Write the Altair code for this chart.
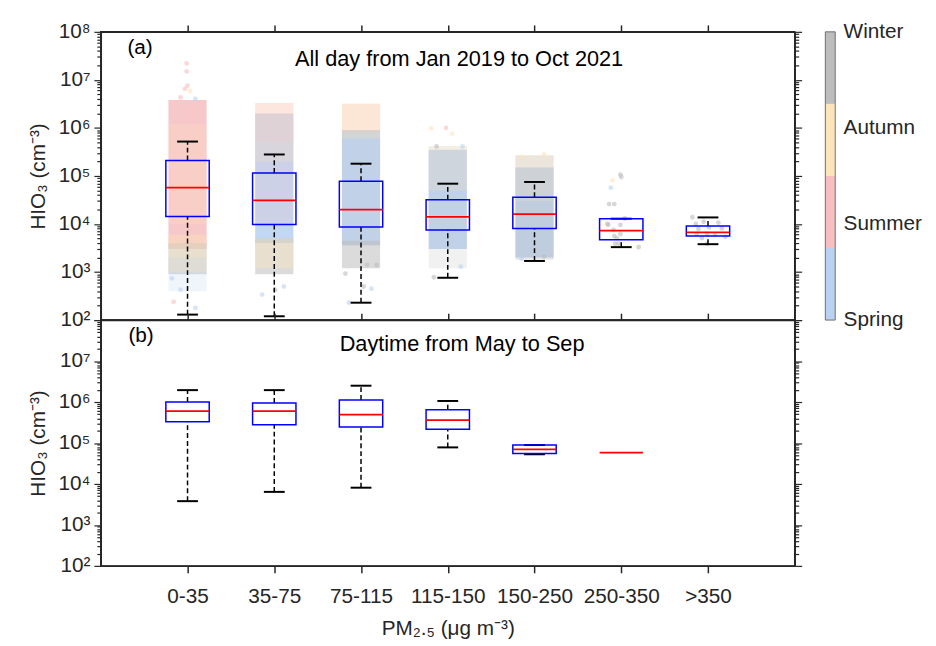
import altair as alt
import pandas as pd

# ---------------- data ----------------
categories = ["0-35", "35-75", "75-115", "115-150", "150-250", "250-350", ">350"]
seasons = ["Spring", "Summer", "Autumn", "Winter"]
season_colors = ["#bad2f1", "#f6c0c1", "#fde5b9", "#bdbdbd"]

# panel (a): all day, box statistics (cm^-3)
a_lower = [1.3e2, 1.2e2, 2.3e2, 7.6e2, 1.7e3, 3.3e3, 3.8e3]
a_q1 = [1.44e4, 9.8e3, 8.7e3, 7.5e3, 8.1e3, 4.7e3, 5.6e3]
a_median = [5.7e4, 3.1e4, 2.0e4, 1.4e4, 1.6e4, 7.3e3, 6.7e3]
a_q3 = [2.1e5, 1.15e5, 7.8e4, 3.2e4, 3.6e4, 1.29e4, 9.1e3]
a_upper = [5.2e5, 2.8e5, 1.8e5, 6.9e4, 7.5e4, 1.29e4, 1.37e4]

# panel (b): daytime May-Sep, box statistics (None = not drawn)
b_lower = [3.8e3, 6.4e3, 8.1e3, 7.8e4, 5.3e4, None, None]
b_q1 = [3.3e5, 2.8e5, 2.45e5, 2.15e5, 5.5e4, None, None]
b_median = [6.0e5, 6.0e5, 4.9e5, 3.6e5, 7.0e4, 5.8e4, None]
b_q3 = [1.0e6, 9.5e5, 1.12e6, 6.5e5, 8.9e4, None, None]
b_upper = [1.95e6, 1.95e6, 2.5e6, 1.06e6, 8.9e4, None, None]

# panel (a): dense scatter clouds, as season bands (category, season, low, high, density)
cloud_cat = ["0-35", "0-35", "0-35", "0-35", "0-35",
             "35-75", "35-75", "35-75", "35-75", "35-75", "35-75",
             "75-115", "75-115", "75-115", "75-115", "75-115",
             "115-150", "115-150", "115-150",
             "150-250", "150-250", "150-250"]
cloud_season = ["Summer", "Autumn", "Winter", "Autumn", "Spring",
                "Spring", "Summer", "Summer", "Autumn", "Winter", "Autumn",
                "Spring", "Summer", "Autumn", "Winter", "Winter",
                "Spring", "Winter", "Autumn",
                "Spring", "Winter", "Autumn"]
cloud_low = [3.0e3, 1.0e4, 9.0e2, 1.0e3, 4.0e2,
             4.0e3, 1.0e4, 5.0e5, 2.0e5, 9.0e2, 1.2e3,
             3.6e3, 8.0e5, 6.0e5, 3.6e3, 1.2e3,
             3.0e3, 1.2e3, 5.0e4,
             2.0e3, 1.8e3, 3.0e4]
cloud_high = [3.8e6, 1.2e6, 4.0e3, 6.0e3, 2.0e3,
              2.0e6, 5.0e5, 3.3e6, 3.3e6, 5.0e3, 5.0e3,
              9.0e5, 3.2e6, 3.2e6, 9.0e5, 4.5e3,
              3.5e5, 4.2e5, 4.2e5,
              1.5e5, 2.7e5, 2.7e5]
cloud_density = ["dense", "sparse", "medium", "light", "sparse",
                 "dense", "sparse", "light", "sparse", "medium", "light",
                 "dense", "light", "light", "sparse", "medium",
                 "dense", "sparse", "sparse",
                 "dense", "light", "sparse"]
density_levels = ["sparse", "light", "medium", "dense"]

# panel (a): individually visible points (category, season, jitter offset, value)
pt_cat = ["0-35"] * 11 + ["35-75"] * 3 + ["75-115"] * 6 + ["115-150"] * 7 + ["150-250"] * 4 \
    + ["250-350"] * 17 + [">350"] * 13
pt_season = ["Summer", "Summer", "Summer", "Summer", "Autumn", "Summer", "Spring",
             "Spring", "Spring", "Summer", "Spring",
             "Spring", "Spring", "Winter",
             "Spring", "Spring", "Winter", "Winter", "Winter", "Winter",
             "Autumn", "Summer", "Autumn", "Winter", "Spring", "Winter", "Spring",
             "Autumn", "Autumn", "Spring", "Winter",
             "Winter", "Winter", "Autumn", "Spring", "Winter", "Winter", "Winter", "Winter",
             "Winter", "Winter", "Winter", "Winter", "Winter", "Winter", "Winter", "Winter", "Winter",
             "Winter", "Winter", "Winter", "Winter", "Winter", "Winter", "Winter", "Winter",
             "Winter", "Winter", "Winter", "Winter", "Winter"]
pt_offset = [-0.01, -0.01, 0.0, -0.03, 0.03, -0.08, 0.09,
             -0.18, -0.08, -0.16, 0.09,
             -0.14, 0.11, 0.01,
             -0.14, 0.12, 0.03, -0.18, 0.07, 0.18,
             -0.19, -0.02, 0.05, -0.13, 0.17, -0.16, 0.15,
             -0.15, 0.11, -0.15, 0.11,
             -0.01, 0.0, -0.10, -0.12, -0.14, -0.08, 0.04, -0.16, -0.15,
             -0.01, -0.09, -0.01, -0.08, -0.05, -0.07, -0.03, 0.20,
             -0.18, -0.14, -0.05, 0.12, -0.11, 0.01, 0.16, -0.13, -0.01, 0.08, -0.07, 0.20, -0.01]
pt_value = [2.2e7, 1.5e7, 7.6e6, 6.5e6, 5.9e6, 4.3e6, 4.0e6,
            7.4e2, 4.3e2, 2.4e2, 1.8e2,
            3.4e2, 5.0e2, 4.3e2,
            2.3e2, 4.5e2, 5.0e2, 9.3e2, 1.4e3, 1.4e3,
            9.8e5, 1.0e6, 7.6e5, 4.1e5, 4.1e5, 7.8e2, 1.3e3,
            2.5e5, 2.8e5, 1.9e3, 2.1e3,
            1.07e5, 9.5e4, 8.1e4, 5.7e4, 2.6e4, 2.6e4, 1.3e4, 1.0e4, 9.7e3,
            9.6e3, 7.5e3, 6.2e3, 5.6e3, 5.1e3, 3.9e3, 3.9e3, 3.3e3,
            1.38e4, 1.0e4, 1.12e4, 1.07e4, 7.9e3, 8.5e3, 8.1e3, 6.2e3, 6.2e3, 5.9e3, 5.1e3, 5.4e3, 3.9e3]

panel_titles = ["All day from Jan 2019 to Oct 2021", "Daytime from May to Sep"]
panel_tags = ["(a)", "(b)"]
y_title = "HIO₃ (cm⁻³)"
x_title = "PM₂.₅ (μg m⁻³)"

# ---------------- styling ----------------
FONT = "Liberation Sans"
INK = "#262626"
FS = 21
HW_BOX, HW_CAP, HW_CLOUD = 0.25, 0.12, 0.22
W, HA, HB = 703, 292, 249
CLOUD_OPACITY = [0.22, 0.38, 0.55, 0.88]   # by density level

pos = {c: i + 1 for i, c in enumerate(categories)}
xscale = alt.Scale(domain=[0, len(categories) + 1], nice=False, zero=False)
yscale = alt.Scale(type="log", domain=[1e2, 1e8], nice=False)
cbscale = alt.Scale(domain=[1, len(seasons)], nice=False, zero=False)

major_vals = [10.0 ** k for k in range(2, 9)]
minor_vals = [m * 10.0 ** k for k in range(2, 8) for m in range(2, 10)]
tick_vals = sorted(major_vals + minor_vals)

SUP = "['⁰','¹','²','³','⁴','⁵','⁶','⁷','⁸','⁹']"
EXP = "round(log(datum.value)/LN10)"
IS_MAJOR = f"abs(log(datum.value)/LN10 - {EXP}) < 0.001"
CAT_EXPR = "[" + ",".join("'" + c + "'" for c in categories) + "][round(datum.value) - 1]"
SEASON_EXPR = "[" + ",".join("'" + s + "'" for s in seasons) + "][round(datum.value) - 1]"


def y_axis(orient, labels, label_max=2e8):
    kw = dict(orient=orient, values=tick_vals, labels=labels, grid=False,
              tickSize={"condition": {"test": IS_MAJOR, "value": 7}, "value": 4},
              tickWidth=1.2, tickColor=INK, domainColor=INK, domainWidth=1.5,
              labelOverlap=False, labelFlush=False)
    if labels:
        kw.update(labelExpr=f"({IS_MAJOR}) && datum.value < {label_max} ? '10' + {SUP}[{EXP}] : ''",
                  labelFontSize=FS, labelColor=INK, labelFont=FONT, labelPadding=4,
                  title=y_title, titleFontSize=FS, titleFont=FONT, titleColor=INK,
                  titleFontWeight="normal", titlePadding=10)
    else:
        kw.update(title=None)
    return alt.Axis(**kw)


def x_axis(orient, labels):
    kw = dict(orient=orient, values=list(range(1, len(categories) + 1)), labels=labels,
              grid=False, tickSize=7, tickWidth=1.5, tickColor=INK, domainColor=INK,
              domainWidth=1.5, labelFlush=False, labelOverlap=False)
    if labels:
        kw.update(labelExpr=CAT_EXPR, labelFontSize=FS, labelColor=INK, labelFont=FONT,
                  labelPadding=13, title=x_title, titleFontSize=FS, titleFont=FONT,
                  titleColor=INK, titleFontWeight="normal", titlePadding=12)
    else:
        kw.update(title=None)
    return alt.Axis(**kw)


def stats_frames(lower, q1, med, q3, upper):
    box, whisk, caps, meds = [], [], [], []
    for i, c in enumerate(categories):
        p = pos[c]
        if med[i] is not None:
            meds.append({"p": p, "v": med[i]})
        if q1[i] is not None:
            box.append({"p": p, "lo": q1[i], "hi": q3[i]})
            if upper[i] > q3[i]:
                whisk.append({"p": p, "a": q3[i], "b": upper[i]})
            if lower[i] < q1[i]:
                whisk.append({"p": p, "a": lower[i], "b": q1[i]})
            caps.append({"p": p, "v": upper[i]})
            caps.append({"p": p, "v": lower[i]})
    return pd.DataFrame(box), pd.DataFrame(whisk), pd.DataFrame(caps), pd.DataFrame(meds)


def box_layers(frames, axes):
    box_df, whisk_df, caps_df, med_df = frames
    whisk = alt.Chart(whisk_df).mark_rule(color="black", strokeWidth=1.5, strokeDash=[5, 3]).encode(
        x=alt.X("p:Q", scale=xscale, axis=axes.get("whisk_x")),
        y=alt.Y("a:Q", scale=yscale, axis=axes.get("whisk_y")),
        y2="b:Q")
    caps = alt.Chart(caps_df).transform_calculate(
        l=f"datum.p - {HW_CAP}", r=f"datum.p + {HW_CAP}").mark_rule(
        color="black", strokeWidth=2).encode(
        x=alt.X("l:Q", scale=xscale, axis=None), x2="r:Q",
        y=alt.Y("v:Q", scale=yscale, axis=None))
    box = alt.Chart(box_df).transform_calculate(
        l=f"datum.p - {HW_BOX}", r=f"datum.p + {HW_BOX}").mark_rect(
        fillOpacity=0, stroke="#0000ff", strokeWidth=1.5).encode(
        x=alt.X("l:Q", scale=xscale, axis=axes.get("box_x")), x2="r:Q",
        y=alt.Y("lo:Q", scale=yscale, axis=axes.get("box_y")), y2="hi:Q")
    med = alt.Chart(med_df).transform_calculate(
        l=f"datum.p - {HW_BOX}", r=f"datum.p + {HW_BOX}").mark_rule(
        color="#ff0000", strokeWidth=1.8).encode(
        x=alt.X("l:Q", scale=xscale, axis=None), x2="r:Q",
        y=alt.Y("v:Q", scale=yscale, axis=None))
    return [whisk, caps, box, med]


def annotations(idx, title_xy, tag_xy):
    t = alt.Chart(pd.DataFrame({"t": [panel_titles[idx]]})).mark_text(
        font=FONT, fontSize=22, color="black", align="center", baseline="alphabetic").encode(
        text="t:N", x=alt.value(title_xy[0]), y=alt.value(title_xy[1]))
    g = alt.Chart(pd.DataFrame({"t": [panel_tags[idx]]})).mark_text(
        font=FONT, fontSize=FS, color="black", align="left", baseline="alphabetic").encode(
        text="t:N", x=alt.value(tag_xy[0]), y=alt.value(tag_xy[1]))
    return [t, g]


# ---------------- panel (a) ----------------
cloud_df = pd.DataFrame({"cat": cloud_cat, "season": cloud_season, "lo": cloud_low,
                         "hi": cloud_high, "density": cloud_density})
cloud_df["p"] = cloud_df["cat"].map(pos)
cloud_df["dlevel"] = cloud_df["density"].map({d: i for i, d in enumerate(density_levels)})
pts_df = pd.DataFrame({"cat": pt_cat, "season": pt_season, "off": pt_offset, "v": pt_value})
pts_df["p"] = pts_df["cat"].map(pos)

season_scale = alt.Scale(domain=seasons, range=season_colors)
opacity_expr = "[" + ",".join(str(o) for o in CLOUD_OPACITY) + "][datum.dlevel]"

clouds = alt.Chart(cloud_df).transform_calculate(
    l=f"datum.p - {HW_CLOUD}", r=f"datum.p + {HW_CLOUD}", op=opacity_expr).mark_rect().encode(
    x=alt.X("l:Q", scale=xscale, axis=x_axis("top", False)), x2="r:Q",
    y=alt.Y("lo:Q", scale=yscale, axis=y_axis("left", True)), y2="hi:Q",
    color=alt.Color("season:N", scale=season_scale, legend=None),
    opacity=alt.Opacity("op:Q", scale=None, legend=None))

points = alt.Chart(pts_df).transform_calculate(xp="datum.p + datum.off").mark_circle(
    size=24, opacity=0.6).encode(
    x=alt.X("xp:Q", scale=xscale, axis=None),
    y=alt.Y("v:Q", scale=yscale, axis=y_axis("right", False)),
    color=alt.Color("season:N", scale=season_scale, legend=None))

# colour bar (season key) drawn at the right of panel (a)
CB_X0, CB_X1 = W + 31, W + 41
cb_df = pd.DataFrame({"season": seasons,
                      "lo": [1 + 0.75 * i for i in range(len(seasons))],
                      "hi": [1 + 0.75 * (i + 1) for i in range(len(seasons))]})
cb_rects = alt.Chart(cb_df).mark_rect().encode(
    x=alt.value(CB_X0), x2=alt.value(CB_X1),
    y=alt.Y("lo:Q", scale=cbscale,
            axis=alt.Axis(orient="right", offset=CB_X1 - W, values=list(range(1, len(seasons) + 1)),
                          labelExpr=SEASON_EXPR, ticks=False, domain=False, grid=False,
                          labelFontSize=FS, labelFont=FONT, labelColor=INK, labelPadding=8,
                          labelFlush=False, labelOverlap=False, title=None)),
    y2="hi:Q",
    color=alt.Color("season:N", scale=season_scale, legend=None))
cb_frame = alt.Chart(pd.DataFrame({"lo": [1], "hi": [len(seasons)]})).mark_rect(
    fillOpacity=0, stroke="#6e6e6e", strokeWidth=1).encode(
    x=alt.value(CB_X0), x2=alt.value(CB_X1),
    y=alt.Y("lo:Q", scale=cbscale, axis=None), y2="hi:Q")

frames_a = stats_frames(a_lower, a_q1, a_median, a_q3, a_upper)
panel_a = alt.layer(
    clouds, points, *box_layers(frames_a, {}), *annotations(0, (363, 35), (27, 22)),
    cb_rects, cb_frame
).resolve_scale(y="independent").resolve_axis(x="independent", y="independent").properties(
    width=W, height=HA, view=alt.ViewBackground(stroke=INK, strokeWidth=1.5))

# ---------------- panel (b) ----------------
frames_b = stats_frames(b_lower, b_q1, b_median, b_q3, b_upper)
panel_b = alt.layer(
    *box_layers(frames_b, {"box_x": x_axis("bottom", True), "box_y": y_axis("left", True, 5e7),
                           "whisk_x": x_axis("top", False), "whisk_y": y_axis("right", False)}),
    *annotations(1, (366, 31), (28, 22))
).resolve_axis(x="independent", y="independent").properties(
    width=W, height=HB, view=alt.ViewBackground(stroke=INK, strokeWidth=1.5))

chart = alt.vconcat(panel_a, panel_b, spacing=0, bounds="flush").properties(
    padding={"left": 18, "top": 8, "right": 5, "bottom": 0}
).configure(font=FONT)

chart.save("out.html", embed_options={"renderer": "svg", "actions": False})
